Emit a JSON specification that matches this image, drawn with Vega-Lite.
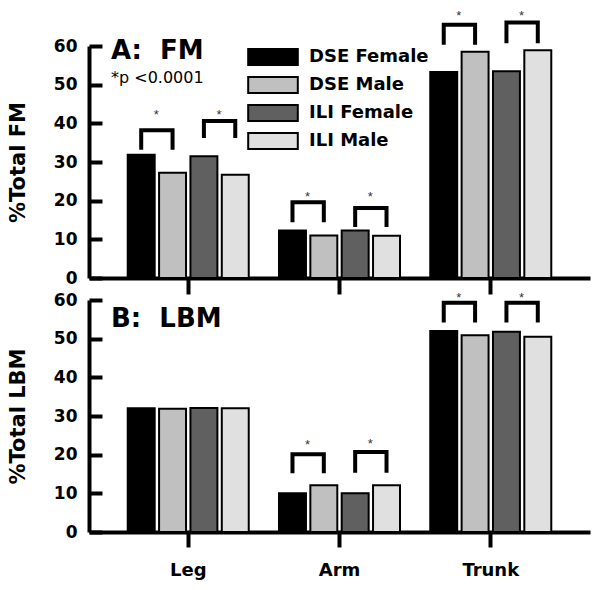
{
  "$schema": "https://vega.github.io/schema/vega-lite/v6.json",
  "background": "white",
  "padding": {"left": 7, "top": 9, "right": 5, "bottom": 5},
  "bounds": "flush",
  "spacing": 22,
  "resolve": {"scale": {"color": "independent"}, "legend": {"color": "independent"}},
  "config": {
    "view": {"stroke": null},
    "font": "DejaVu Sans",
    "axis": {
      "domainColor": "black", "domainWidth": 4, "tickColor": "black", "tickWidth": 4, "grid": false,
      "labelFont": "DejaVu Sans", "labelFontWeight": "bold", "labelColor": "black",
      "titleFont": "DejaVu Sans", "titleFontWeight": "bold", "titleColor": "black"
    }
  },
  "datasets": {
    "fm": [
      {"region": "Leg", "group": "DSE Female", "value": 31.9},
      {"region": "Leg", "group": "DSE Male", "value": 27.2},
      {"region": "Leg", "group": "ILI Female", "value": 31.5},
      {"region": "Leg", "group": "ILI Male", "value": 26.7},
      {"region": "Arm", "group": "DSE Female", "value": 12.3},
      {"region": "Arm", "group": "DSE Male", "value": 11.0},
      {"region": "Arm", "group": "ILI Female", "value": 12.3},
      {"region": "Arm", "group": "ILI Male", "value": 10.9},
      {"region": "Trunk", "group": "DSE Female", "value": 53.3},
      {"region": "Trunk", "group": "DSE Male", "value": 58.5},
      {"region": "Trunk", "group": "ILI Female", "value": 53.5},
      {"region": "Trunk", "group": "ILI Male", "value": 58.9}
    ],
    "lbm": [
      {"region": "Leg", "group": "DSE Female", "value": 32.0},
      {"region": "Leg", "group": "DSE Male", "value": 31.9},
      {"region": "Leg", "group": "ILI Female", "value": 32.1},
      {"region": "Leg", "group": "ILI Male", "value": 32.0},
      {"region": "Arm", "group": "DSE Female", "value": 10.0},
      {"region": "Arm", "group": "DSE Male", "value": 12.1},
      {"region": "Arm", "group": "ILI Female", "value": 10.0},
      {"region": "Arm", "group": "ILI Male", "value": 12.1},
      {"region": "Trunk", "group": "DSE Female", "value": 52.0},
      {"region": "Trunk", "group": "DSE Male", "value": 50.9},
      {"region": "Trunk", "group": "ILI Female", "value": 51.8},
      {"region": "Trunk", "group": "ILI Male", "value": 50.5}
    ],
    "fmBr": [
      {"id": "L1", "ord": 1, "region": "Leg", "group": "DSE Female", "value": 33.2},
      {"id": "L1", "ord": 2, "region": "Leg", "group": "DSE Female", "value": 38.2},
      {"id": "L1", "ord": 3, "region": "Leg", "group": "DSE Male", "value": 38.2},
      {"id": "L1", "ord": 4, "region": "Leg", "group": "DSE Male", "value": 33.2},
      {"id": "L2", "ord": 1, "region": "Leg", "group": "ILI Female", "value": 36.2},
      {"id": "L2", "ord": 2, "region": "Leg", "group": "ILI Female", "value": 40.6},
      {"id": "L2", "ord": 3, "region": "Leg", "group": "ILI Male", "value": 40.6},
      {"id": "L2", "ord": 4, "region": "Leg", "group": "ILI Male", "value": 36.2},
      {"id": "A1", "ord": 1, "region": "Arm", "group": "DSE Female", "value": 14.4},
      {"id": "A1", "ord": 2, "region": "Arm", "group": "DSE Female", "value": 19.6},
      {"id": "A1", "ord": 3, "region": "Arm", "group": "DSE Male", "value": 19.6},
      {"id": "A1", "ord": 4, "region": "Arm", "group": "DSE Male", "value": 14.4},
      {"id": "A2", "ord": 1, "region": "Arm", "group": "ILI Female", "value": 13.2},
      {"id": "A2", "ord": 2, "region": "Arm", "group": "ILI Female", "value": 18.1},
      {"id": "A2", "ord": 3, "region": "Arm", "group": "ILI Male", "value": 18.1},
      {"id": "A2", "ord": 4, "region": "Arm", "group": "ILI Male", "value": 13.2},
      {"id": "T1", "ord": 1, "region": "Trunk", "group": "DSE Female", "value": 60.3},
      {"id": "T1", "ord": 2, "region": "Trunk", "group": "DSE Female", "value": 65.5},
      {"id": "T1", "ord": 3, "region": "Trunk", "group": "DSE Male", "value": 65.5},
      {"id": "T1", "ord": 4, "region": "Trunk", "group": "DSE Male", "value": 60.3},
      {"id": "T2", "ord": 1, "region": "Trunk", "group": "ILI Female", "value": 60.7},
      {"id": "T2", "ord": 2, "region": "Trunk", "group": "ILI Female", "value": 66.1},
      {"id": "T2", "ord": 3, "region": "Trunk", "group": "ILI Male", "value": 66.1},
      {"id": "T2", "ord": 4, "region": "Trunk", "group": "ILI Male", "value": 60.7}
    ],
    "lbmBr": [
      {"id": "A1", "ord": 1, "region": "Arm", "group": "DSE Female", "value": 15.2},
      {"id": "A1", "ord": 2, "region": "Arm", "group": "DSE Female", "value": 20.1},
      {"id": "A1", "ord": 3, "region": "Arm", "group": "DSE Male", "value": 20.1},
      {"id": "A1", "ord": 4, "region": "Arm", "group": "DSE Male", "value": 15.2},
      {"id": "A2", "ord": 1, "region": "Arm", "group": "ILI Female", "value": 15.3},
      {"id": "A2", "ord": 2, "region": "Arm", "group": "ILI Female", "value": 20.7},
      {"id": "A2", "ord": 3, "region": "Arm", "group": "ILI Male", "value": 20.7},
      {"id": "A2", "ord": 4, "region": "Arm", "group": "ILI Male", "value": 15.3},
      {"id": "T1", "ord": 1, "region": "Trunk", "group": "DSE Female", "value": 54.2},
      {"id": "T1", "ord": 2, "region": "Trunk", "group": "DSE Female", "value": 59.3},
      {"id": "T1", "ord": 3, "region": "Trunk", "group": "DSE Male", "value": 59.3},
      {"id": "T1", "ord": 4, "region": "Trunk", "group": "DSE Male", "value": 54.2},
      {"id": "T2", "ord": 1, "region": "Trunk", "group": "ILI Female", "value": 54.2},
      {"id": "T2", "ord": 2, "region": "Trunk", "group": "ILI Female", "value": 59.3},
      {"id": "T2", "ord": 3, "region": "Trunk", "group": "ILI Male", "value": 59.3},
      {"id": "T2", "ord": 4, "region": "Trunk", "group": "ILI Male", "value": 54.2}
    ],
    "fmStar": [
      {"region": "Leg", "group": "DSE Female", "value": 42.9},
      {"region": "Leg", "group": "ILI Female", "value": 42.9},
      {"region": "Arm", "group": "DSE Female", "value": 21.6},
      {"region": "Arm", "group": "ILI Female", "value": 21.6},
      {"region": "Trunk", "group": "DSE Female", "value": 68.6},
      {"region": "Trunk", "group": "ILI Female", "value": 68.6}
    ],
    "lbmStar": [
      {"region": "Arm", "group": "DSE Female", "value": 23.3},
      {"region": "Arm", "group": "ILI Female", "value": 23.5},
      {"region": "Trunk", "group": "DSE Female", "value": 61.3},
      {"region": "Trunk", "group": "ILI Female", "value": 61.3}
    ]
  },
  "vconcat": [
    {
      "width": 501,
      "height": 232,
      "title": {
        "text": "A:\u00a0 FM", "subtitle": "*p <0.0001", "anchor": "start", "frame": "group", "offset": -76, "dx": 22,
        "font": "DejaVu Sans", "fontSize": 26, "fontWeight": "bold", "color": "black",
        "subtitleFont": "DejaVu Sans", "subtitleFontSize": 16, "subtitleColor": "black", "subtitlePadding": 6
      },
      "resolve": {"axis": {"y": "independent"}},
      "layer": [
        {
          "data": {"name": "fm"},
          "mark": {"type": "bar", "stroke": "black", "strokeWidth": 2},
          "encoding": {
            "x": {"field": "region", "type": "nominal", "sort": ["Leg", "Arm", "Trunk"], "scale": {"paddingInner": 0.2, "paddingOuter": 0.256}, "axis": {"title": null, "labels": false, "tickSize": 16}},
            "xOffset": {"field": "group", "type": "nominal", "sort": ["DSE Female", "DSE Male", "ILI Female", "ILI Male"], "scale": {"paddingInner": 0.14, "paddingOuter": 0}},
            "y": {"field": "value", "type": "quantitative", "scale": {"domain": [0, 60], "nice": false}, "axis": {"title": "%Total FM", "values": [0, 10, 20, 30, 40, 50, 60], "ticks": true, "tickSize": -13, "tickColor": "black", "labelOverlap": false, "labelPadding": 25, "labelFontSize": 17, "titleFontSize": 21, "titlePadding": 25}},
            "color": {
              "field": "group", "type": "nominal",
              "scale": {"domain": ["DSE Female", "DSE Male", "ILI Female", "ILI Male"], "range": ["#000000", "#c0c0c0", "#606060", "#e0e0e0"]},
              "legend": {
                "orient": "none", "legendX": 175, "legendY": 2, "title": null, "padding": 0,
                "symbolType": "M-3.1,-1H3.1V1H-3.1Z", "symbolSize": 256, "symbolStrokeColor": "black", "symbolStrokeWidth": 2, "symbolOpacity": 1,
                "labelFont": "DejaVu Sans", "labelFontWeight": "bold", "labelFontSize": 18, "labelColor": "black", "labelOffset": 27, "rowPadding": 4
              }
            }
          }
        },
        {
          "data": {"name": "fmBr"},
          "mark": {"type": "line", "color": "black", "strokeWidth": 4, "strokeJoin": "miter"},
          "encoding": {
            "x": {"field": "region", "type": "nominal", "sort": ["Leg", "Arm", "Trunk"]},
            "xOffset": {"field": "group", "type": "nominal", "sort": ["DSE Female", "DSE Male", "ILI Female", "ILI Male"]},
            "y": {"field": "value", "type": "quantitative", "axis": null},
            "detail": {"field": "id"},
            "order": {"field": "ord"}
          }
        },
        {
          "data": {"name": "fmStar"},
          "mark": {"type": "text", "text": "*", "dx": 15, "dy": 3, "fontSize": 13, "font": "Liberation Sans", "color": "#333333"},
          "encoding": {
            "x": {"field": "region", "type": "nominal", "sort": ["Leg", "Arm", "Trunk"]},
            "xOffset": {"field": "group", "type": "nominal", "sort": ["DSE Female", "DSE Male", "ILI Female", "ILI Male"]},
            "y": {"field": "value", "type": "quantitative", "axis": null}
          }
        }
      ]
    },
    {
      "width": 501,
      "height": 232,
      "title": {
        "text": "B:\u00a0 LBM", "anchor": "start", "frame": "group", "offset": -41, "dx": 22,
        "font": "DejaVu Sans", "fontSize": 26, "fontWeight": "bold", "color": "black"
      },
      "resolve": {"axis": {"y": "independent"}},
      "layer": [
        {
          "data": {"name": "lbm"},
          "mark": {"type": "bar", "stroke": "black", "strokeWidth": 2},
          "encoding": {
            "x": {"field": "region", "type": "nominal", "sort": ["Leg", "Arm", "Trunk"], "scale": {"paddingInner": 0.2, "paddingOuter": 0.256}, "axis": {"title": null, "labelAngle": 0, "tickSize": 15, "labelPadding": 14, "labelFontSize": 18}},
            "xOffset": {"field": "group", "type": "nominal", "sort": ["DSE Female", "DSE Male", "ILI Female", "ILI Male"], "scale": {"paddingInner": 0.14, "paddingOuter": 0}},
            "y": {"field": "value", "type": "quantitative", "scale": {"domain": [0, 60], "nice": false}, "axis": {"title": "%Total LBM", "values": [0, 10, 20, 30, 40, 50, 60], "ticks": true, "tickSize": -13, "tickColor": "black", "labelOverlap": false, "labelPadding": 25, "labelFontSize": 17, "titleFontSize": 21, "titlePadding": 25}},
            "color": {
              "field": "group", "type": "nominal",
              "scale": {"domain": ["DSE Female", "DSE Male", "ILI Female", "ILI Male"], "range": ["#000000", "#c0c0c0", "#606060", "#e0e0e0"]},
              "legend": null
            }
          }
        },
        {
          "data": {"name": "lbmBr"},
          "mark": {"type": "line", "color": "black", "strokeWidth": 4, "strokeJoin": "miter"},
          "encoding": {
            "x": {"field": "region", "type": "nominal", "sort": ["Leg", "Arm", "Trunk"]},
            "xOffset": {"field": "group", "type": "nominal", "sort": ["DSE Female", "DSE Male", "ILI Female", "ILI Male"]},
            "y": {"field": "value", "type": "quantitative", "axis": null},
            "detail": {"field": "id"},
            "order": {"field": "ord"}
          }
        },
        {
          "data": {"name": "lbmStar"},
          "mark": {"type": "text", "text": "*", "dx": 15, "dy": 3, "fontSize": 13, "font": "Liberation Sans", "color": "#333333"},
          "encoding": {
            "x": {"field": "region", "type": "nominal", "sort": ["Leg", "Arm", "Trunk"]},
            "xOffset": {"field": "group", "type": "nominal", "sort": ["DSE Female", "DSE Male", "ILI Female", "ILI Male"]},
            "y": {"field": "value", "type": "quantitative", "axis": null}
          }
        }
      ]
    }
  ]
}
